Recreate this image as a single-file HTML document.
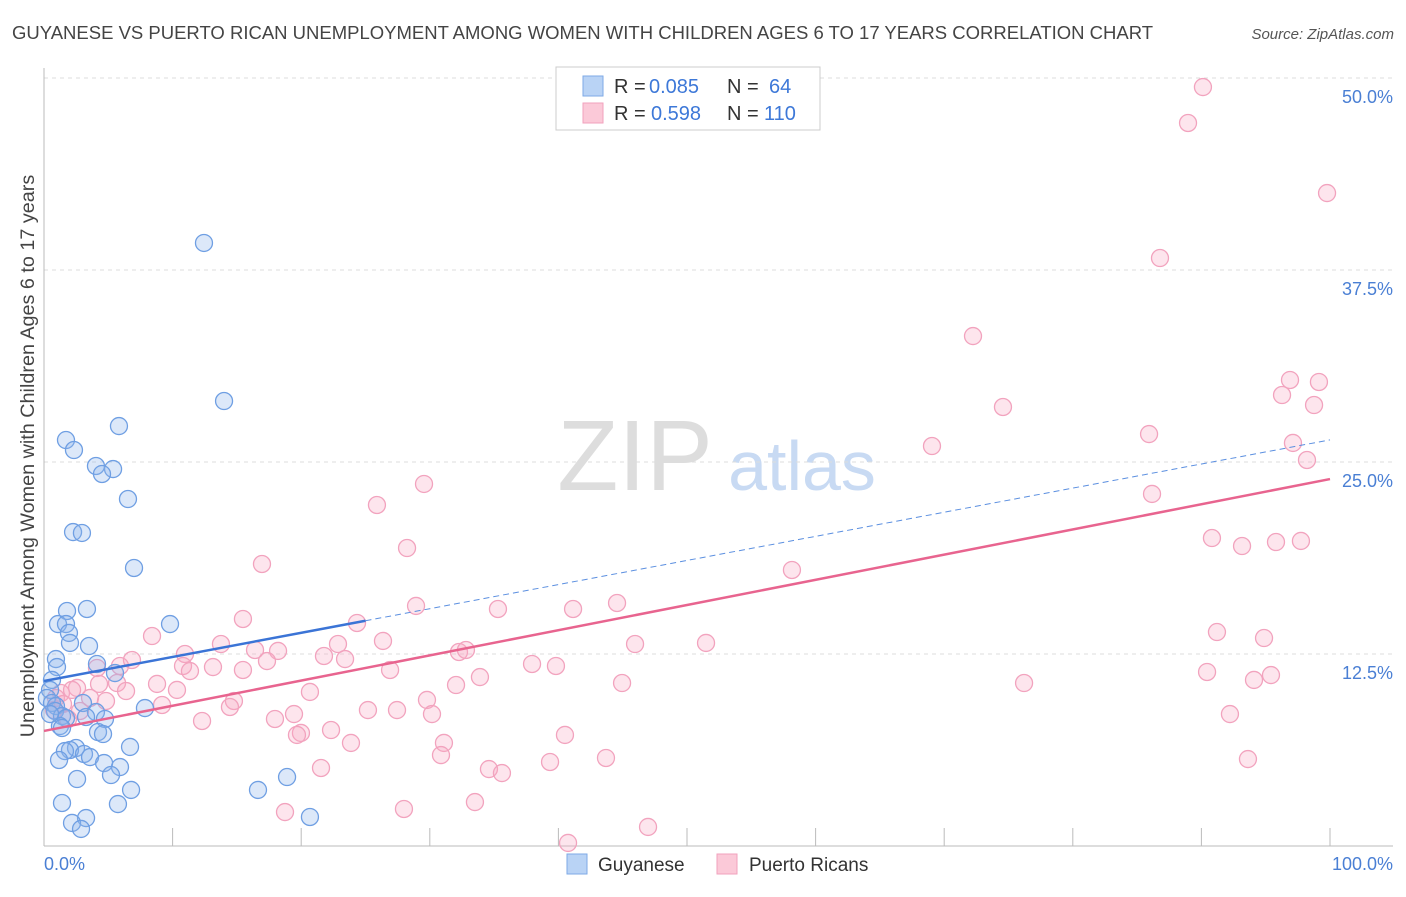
<!DOCTYPE html>
<html><head><meta charset="utf-8"><style>
body{margin:0;background:#fff;font-family:"Liberation Sans",sans-serif;}
svg text{font-family:"Liberation Sans",sans-serif;}
</style></head><body>
<svg id="chart" width="1406" height="892" xmlns="http://www.w3.org/2000/svg">
<text x="12" y="39" font-size="18.5" fill="#444">GUYANESE VS PUERTO RICAN UNEMPLOYMENT AMONG WOMEN WITH CHILDREN AGES 6 TO 17 YEARS CORRELATION CHART</text>
<text x="1394" y="39" font-size="15" fill="#555" font-style="italic" text-anchor="end">Source: ZipAtlas.com</text>
<g>
<text x="635" y="490" font-size="100" fill="#ddd" font-family="Liberation Serif" text-anchor="middle">ZIP</text>
<text x="802" y="490" font-size="70" fill="#c8daf3" text-anchor="middle">atlas</text>
</g>
<g id="grid"></g>
<g id="ticks"></g>
<line x1="44" y1="68" x2="44" y2="846" stroke="#bbb"/>
<line x1="44" y1="846" x2="1393" y2="846" stroke="#bbb"/>
<text transform="translate(34,456) rotate(-90)" font-size="19.8" fill="#444" text-anchor="middle">Unemployment Among Women with Children Ages 6 to 17 years</text>
<text x="44" y="870" font-size="18" fill="#4a7fd4">0.0%</text>
<text x="1393" y="870" font-size="18" fill="#4a7fd4" text-anchor="end">100.0%</text>
<g id="pink"></g>
<g id="blue"></g>
<g id="lines"></g>
<g>
<rect x="556" y="67" width="264" height="63" fill="#fff" stroke="#ccc"/>
<rect x="583" y="76" width="20" height="20" fill="#b9d3f5" stroke="#7ea9e6"/>
<rect x="583" y="103" width="20" height="20" fill="#fbc9d8" stroke="#f1a1bd"/>
<text x="614" y="93" font-size="20" fill="#333">R = <tspan fill="#3d78d8" x="649">0.085</tspan><tspan x="727">N = </tspan><tspan x="769" fill="#3d78d8">64</tspan></text>
<text x="614" y="120" font-size="20" fill="#333">R = <tspan fill="#3d78d8" x="651">0.598</tspan><tspan x="727">N = </tspan><tspan x="764" fill="#3d78d8">110</tspan></text>
</g>
<g>
<rect x="567" y="854" width="20" height="20" fill="#b9d3f5" stroke="#7ea9e6"/>
<text x="598" y="871" font-size="19" fill="#333">Guyanese</text>
<rect x="717" y="854" width="20" height="20" fill="#fbc9d8" stroke="#f1a1bd"/>
<text x="749" y="871" font-size="19" fill="#333">Puerto Ricans</text>
</g>
</svg>
<script>
const yTicks=[12.5,25,37.5,50];
const yTickLabels=["12.5%","25.0%","37.5%","50.0%"];
const xTicks=[0,10,20,30,40,50,60,70,80,90,100];
const blueX=[12.44,14.0,5.83,1.71,2.33,4.04,5.37,4.51,6.53,2.26,2.95,7.0,1.79,3.34,1.09,1.71,1.94,2.02,3.5,9.8,0.93,4.12,1.01,5.52,0.62,0.47,0.23,0.62,0.93,3.03,0.86,4.04,1.4,1.71,3.27,4.74,1.24,1.4,4.2,4.59,2.49,2.02,1.63,3.11,6.69,1.17,3.58,4.67,5.91,5.21,2.57,6.77,16.64,18.9,1.4,5.75,3.27,2.18,2.88,20.68,7.85,0.47];
const blueY=[39.26,28.97,27.34,26.43,25.78,24.74,24.54,24.22,22.59,20.44,20.38,18.1,15.3,15.43,14.45,14.45,13.87,13.22,13.02,14.45,12.17,11.85,11.65,11.26,10.81,10.16,9.64,9.31,9.11,9.31,8.79,8.72,8.46,8.33,8.4,8.27,7.81,7.68,7.42,7.29,6.38,6.25,6.18,5.99,6.45,5.6,5.79,5.4,5.14,4.62,4.36,3.65,3.65,4.49,2.8,2.73,1.82,1.5,1.11,1.89,8.98,8.59];
const pinkX=[90.12,88.96,99.77,86.78,72.24,74.57,96.89,96.27,99.14,98.76,85.93,69.05,97.12,98.21,29.55,86.16,25.89,28.23,90.82,93.16,95.8,97.74,16.95,58.16,28.93,35.3,41.14,44.56,15.47,24.34,91.21,94.87,8.4,13.76,22.86,26.36,45.96,51.48,32.27,32.81,39.81,37.95,10.96,16.41,18.2,6.84,21.77,23.41,17.34,4.12,5.91,10.81,11.35,13.14,15.47,26.91,33.9,90.44,95.41,94.09,2.57,4.28,5.68,8.79,6.38,10.34,44.95,76.21,32.04,20.68,1.32,2.18,0.93,3.58,4.82,14.77,29.78,1.48,9.18,14.46,25.19,27.45,0.78,2.8,1.87,12.29,17.96,19.44,30.17,92.22,22.32,19.98,19.67,23.87,31.1,40.51,30.87,34.6,39.35,43.7,93.62,35.61,21.54,27.99,33.51,18.74,40.75,46.97];
const pinkY=[49.41,47.07,42.51,38.28,33.2,28.58,30.34,29.36,30.21,28.71,26.82,26.04,26.24,25.13,23.57,22.92,22.2,19.4,20.05,19.53,19.79,19.86,18.36,17.97,15.63,15.43,15.43,15.82,14.78,14.52,13.93,13.54,13.67,13.15,13.15,13.35,13.15,13.22,12.63,12.76,11.72,11.85,12.5,12.76,12.7,12.11,12.37,12.17,12.04,11.59,11.72,11.72,11.39,11.65,11.46,11.46,11.0,11.33,11.13,10.81,10.29,10.55,10.61,10.55,10.09,10.16,10.61,10.61,10.48,10.03,9.96,10.16,9.64,9.64,9.44,9.44,9.51,9.24,9.18,9.05,8.85,8.85,8.85,8.79,8.27,8.14,8.27,8.59,8.59,8.59,7.55,7.36,7.23,6.71,6.71,7.23,5.92,5.01,5.47,5.73,5.66,4.75,5.08,2.41,2.86,2.21,0.2,1.24];
const blueTrend=[10.74,0.157];
const pinkTrend=[7.49,0.164];
const NS="http://www.w3.org/2000/svg";
const sx=v=>44+v*12.86, sy=v=>846-v*15.36;
function mk(tag,attrs,parent){const e=document.createElementNS(NS,tag);for(const k in attrs)e.setAttribute(k,attrs[k]);document.getElementById(parent).appendChild(e);return e;}
yTicks.forEach((t,i)=>{
 const g=mk('line',{x1:44,x2:1393,y1:sy(t),y2:sy(t),stroke:'#ddd','stroke-dasharray':'4,4'},'grid');
 
 
 const l=mk('text',{x:1393,y:sy(t)+25,'font-size':18,fill:'#4a7fd4','text-anchor':'end'},'grid');
 l.textContent=yTickLabels[i];
 
 
});
xTicks.forEach(t=>{
 const e=mk('line',{x1:sx(t),x2:sx(t),y1:828,y2:846,stroke:'#bbb'},'ticks');
 
 
});
pinkX.forEach((x,i)=>{
 const c=mk('circle',{cx:sx(x),cy:sy(pinkY[i]),r:8.5,fill:'rgba(248,170,195,0.3)',stroke:'#f2a3be','stroke-width':1.3},'pink');
 
 
});
blueX.forEach((x,i)=>{
 const c=mk('circle',{cx:sx(x),cy:sy(blueY[i]),r:8.5,fill:'rgba(140,180,235,0.3)',stroke:'#6f9fe3','stroke-width':1.3},'blue');
 
 
});
const bt=x=>blueTrend[0]+blueTrend[1]*x, pt=x=>pinkTrend[0]+pinkTrend[1]*x;
let e=mk('line',{x1:sx(0),y1:sy(bt(0)),x2:sx(25),y2:sy(bt(25)),stroke:'#3b74d6','stroke-width':2.5},'lines');


e=mk('line',{x1:sx(25),y1:sy(bt(25)),x2:sx(100),y2:sy(bt(100)),stroke:'#5b8fe0','stroke-width':1,'stroke-dasharray':'6,4'},'lines');


e=mk('line',{x1:sx(0),y1:sy(pt(0)),x2:sx(100),y2:sy(pt(100)),stroke:'#e8648f','stroke-width':2.5},'lines');


</script>
</body></html>
